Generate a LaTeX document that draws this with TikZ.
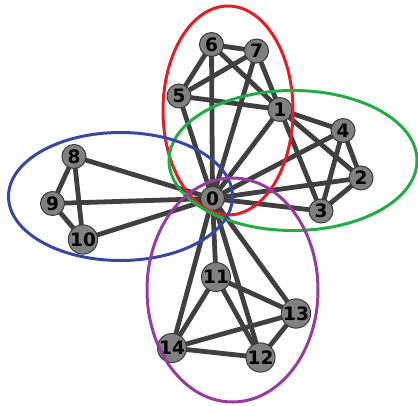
\documentclass[tikz,border=0pt]{standalone}
\usepackage{fontspec}
\setmainfont{DejaVu Sans}
\definecolor{edgecol}{RGB}{64,64,64}
\definecolor{nodefill}{RGB}{128,128,128}
\definecolor{nodeline}{RGB}{60,60,60}
\definecolor{cred}{RGB}{232,28,36}
\definecolor{cgreen}{RGB}{34,172,72}
\definecolor{cblue}{RGB}{56,72,160}
\definecolor{cpurple}{RGB}{150,60,160}
\begin{document}
\begin{tikzpicture}[x=1pt,y=-1pt,
  vert/.style={circle,draw=nodeline,fill=nodefill,line width=1pt,minimum size=24pt,inner sep=0pt,font=\fontsize{18.5}{18.5}\selectfont\bfseries},
  link/.style={draw=edgecol,line width=4.8pt},
  group/.style={line width=3pt}]
\useasboundingbox (0,0) rectangle (418,405);
\path
 (212.5,198.5) coordinate (p0)
 (280,109.5) coordinate (p1)
 (361,178) coordinate (p2)
 (321,211) coordinate (p3)
 (343,130.5) coordinate (p4)
 (179,96) coordinate (p5)
 (211.5,44.5) coordinate (p6)
 (256.5,51) coordinate (p7)
 (74,156.5) coordinate (p8)
 (52.5,203.5) coordinate (p9)
 (83,239.5) coordinate (p10)
 (216,277) coordinate (p11)
 (260.5,357.5) coordinate (p12)
 (296,313.5) coordinate (p13)
 (172,348) coordinate (p14);
% edges
\foreach \a/\b in {p5/p6,p5/p7,p6/p7,p6/p1,p7/p1,p5/p1,p0/p5,p0/p6,p0/p7,p0/p1,
  p1/p4,p1/p2,p1/p3,p4/p2,p4/p3,p2/p3,p0/p4,p0/p2,p0/p3,
  p8/p9,p8/p10,p9/p10,p0/p8,p0/p9,p0/p10,
  p0/p11,p0/p12,p0/p13,p0/p14,p11/p14,p11/p12,p11/p13,p14/p13,p14/p12,p13/p12}
  \draw[link] (\a) -- (\b);
% vertices
\foreach \n in {0,...,14}
  \node[vert] (n\n) at (p\n) {\n};
% groups
\draw[group,cred] (228,110.5) ellipse [x radius=65, y radius=104.5];
\draw[group,cgreen] (293,160.5) ellipse [x radius=124, y radius=70];
\draw[group,cblue] (120.5,196.5) ellipse [x radius=112, y radius=64];
\draw[group,cpurple] (232.5,290) ellipse [x radius=85.5, y radius=112];
\end{tikzpicture}
\end{document}
